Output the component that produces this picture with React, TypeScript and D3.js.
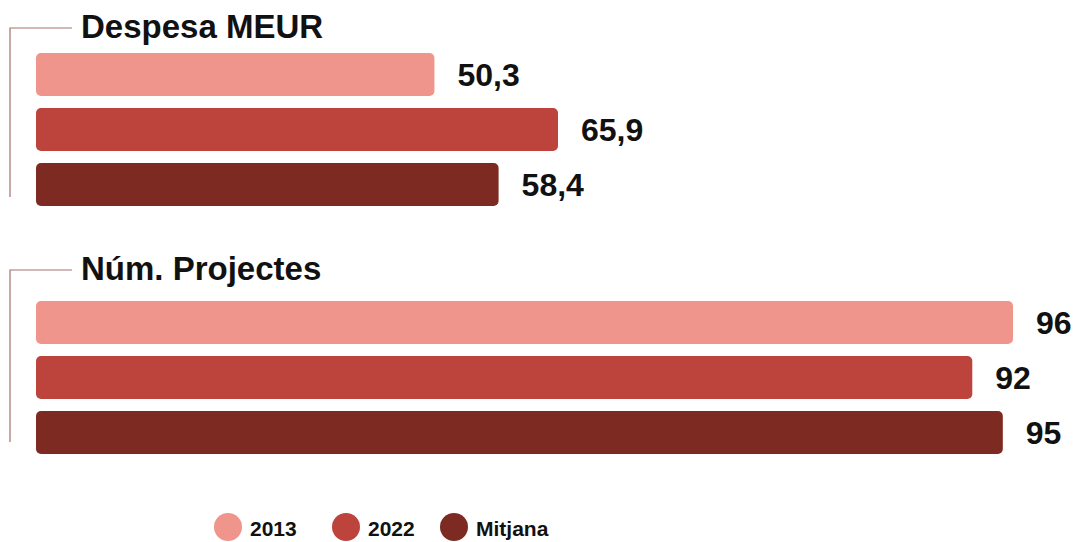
import React, {useRef, useEffect} from 'react';
import * as d3 from 'd3';

// series
const seriesNames = ['2013', '2022', 'Mitjana'];
const seriesColors = ['#ef958b', '#bc443c', '#7d2b22'];

// panels
const panelTitles = ['Despesa MEUR', 'Núm. Projectes'];
const despesaValues = [50.3, 65.9, 58.4];
const despesaLabels = ['50,3', '65,9', '58,4'];
const projectesValues = [96, 92, 95];
const projectesLabels = ['96', '92', '95'];

const WIDTH = 1074;
const HEIGHT = 542;
const FONT = '"Liberation Sans", Arial, Helvetica, sans-serif';

const App: React.FC = () => {
    const svgRef = useRef<SVGSVGElement>(null);

    useEffect(() => {
        document.body.style.margin = '0';
        if (!svgRef.current) return;

        const svg = d3.select(svgRef.current);
        svg.selectAll('*').remove();

        const color = d3.scaleOrdinal<string, string>()
            .domain(seriesNames)
            .range(seriesColors);

        const panels = [
            {
                title: panelTitles[0],
                values: despesaValues,
                labels: despesaLabels,
                top: 28,
                bandTop: 53,
                lineBottom: 197,
                x: d3.scaleLinear().domain([0, 65.9]).range([36, 558]),
            },
            {
                title: panelTitles[1],
                values: projectesValues,
                labels: projectesLabels,
                top: 270,
                bandTop: 301,
                lineBottom: 442,
                x: d3.scaleLinear().domain([0, 96]).range([36, 1013]),
            },
        ];

        panels.forEach(p => {
            const g = svg.append('g');

            // bracket
            g.append('path')
                .attr('d', `M72,${p.top}H10V${p.lineBottom}`)
                .attr('fill', 'none')
                .attr('stroke', '#a86e6e')
                .attr('stroke-width', 1.2);

            g.append('text')
                .attr('x', 81)
                .attr('y', p.top + 10)
                .style('font-family', FONT)
                .style('font-size', '33px')
                .style('font-weight', 'bold')
                .style('fill', '#111')
                .text(p.title);

            const y = d3.scaleBand<string>()
                .domain(seriesNames)
                .range([p.bandTop, p.bandTop + 153])
                .paddingInner(0.218)
                .paddingOuter(0);

            seriesNames.forEach((s, i) => {
                const x0 = p.x(0);
                const x1 = p.x(p.values[i]);
                g.append('rect')
                    .attr('x', x0)
                    .attr('y', y(s)!)
                    .attr('width', x1 - x0)
                    .attr('height', y.bandwidth())
                    .attr('rx', 5)
                    .attr('ry', 5)
                    .style('fill', color(s));

                g.append('text')
                    .attr('x', x1 + 23)
                    .attr('y', y(s)! + y.bandwidth() / 2 + 11.5)
                    .style('font-family', FONT)
                    .style('font-size', '32px')
                    .style('font-weight', 'bold')
                    .style('fill', '#111')
                    .text(p.labels[i]);
            });
        });

        // legend
        const legendX = [228, 346, 454];
        const legend = svg.append('g');
        seriesNames.forEach((s, i) => {
            legend.append('circle')
                .attr('cx', legendX[i])
                .attr('cy', 527)
                .attr('r', 14)
                .style('fill', color(s));
            legend.append('text')
                .attr('x', legendX[i] + 22)
                .attr('y', 536)
                .style('font-family', FONT)
                .style('font-size', '21px')
                .style('font-weight', 'bold')
                .style('fill', '#111')
                .text(s);
        });
    }, []);

    return (
        <svg
            ref={svgRef}
            width={WIDTH}
            height={HEIGHT}
            viewBox={`0 0 ${WIDTH} ${HEIGHT}`}
            style={{display: 'block', background: '#fff'}}
        />
    );
};

export default App;
